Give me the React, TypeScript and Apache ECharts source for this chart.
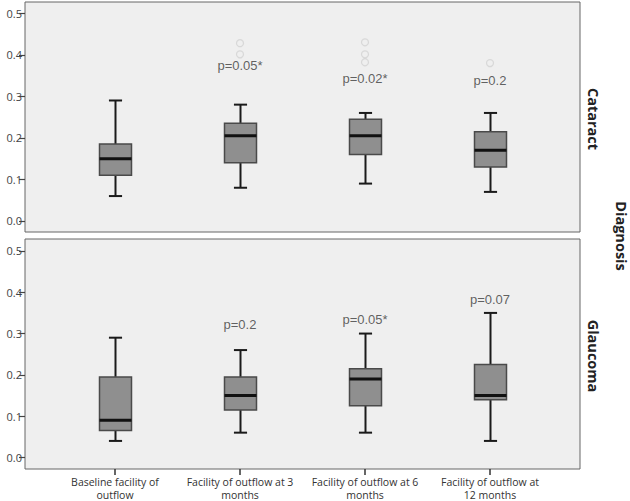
import React, { useEffect, useRef } from "react";
import * as echarts from "echarts";

const categories = [
  "Baseline facility of\noutflow",
  "Facility of outflow at 3\nmonths",
  "Facility of outflow at 6\nmonths",
  "Facility of outflow at\n12 months",
];
const panels = ["Cataract", "Glaucoma"];
const groupTitle = "Diagnosis";

// [low, Q1, median, Q3, high]
const cataractBoxes = [
  [0.06, 0.11, 0.15, 0.185, 0.29],
  [0.08, 0.14, 0.205, 0.235, 0.28],
  [0.09, 0.16, 0.205, 0.245, 0.26],
  [0.07, 0.13, 0.17, 0.215, 0.26],
];
const glaucomaBoxes = [
  [0.04, 0.065, 0.09, 0.195, 0.29],
  [0.06, 0.115, 0.15, 0.195, 0.26],
  [0.06, 0.125, 0.19, 0.215, 0.3],
  [0.04, 0.14, 0.15, 0.225, 0.35],
];
// outliers: [category index, value]
const cataractOutliers = [
  [1, 0.428],
  [1, 0.401],
  [2, 0.43],
  [2, 0.401],
  [2, 0.382],
  [3, 0.38],
];
const glaucomaOutliers: number[][] = [];
// p-value annotations: [category index, value, text]
const cataractPValues: [number, number, string][] = [
  [1, 0.374, "p=0.05*"],
  [2, 0.343, "p=0.02*"],
  [3, 0.337, "p=0.2"],
];
const glaucomaPValues: [number, number, string][] = [
  [1, 0.322, "p=0.2"],
  [2, 0.334, "p=0.05*"],
  [3, 0.382, "p=0.07"],
];
const yTicks = [0, 0.1, 0.2, 0.3, 0.4, 0.5];
const xTicks = [0, 1, 2, 3];

const FONT = "'Open Sans', 'Liberation Sans', sans-serif";

function renderBox(params: any, api: any) {
  const x = api.value(0);
  const low = api.coord([x, api.value(1)]);
  const q1 = api.coord([x, api.value(2)]);
  const med = api.coord([x, api.value(3)]);
  const q3 = api.coord([x, api.value(4)]);
  const high = api.coord([x, api.value(5)]);
  const band = api.size([1, 0])[0];
  const bw = band * 0.256;
  const cw = band * 0.105;
  const cx = Math.round(low[0]) + 0.5;
  const lineStyle = { stroke: "#1a1a1a", lineWidth: 2 };
  return {
    type: "group",
    children: [
      { type: "line", shape: { x1: cx, y1: high[1], x2: cx, y2: q3[1] }, style: lineStyle },
      { type: "line", shape: { x1: cx, y1: q1[1], x2: cx, y2: low[1] }, style: lineStyle },
      { type: "line", shape: { x1: cx - cw / 2, y1: high[1], x2: cx + cw / 2, y2: high[1] }, style: lineStyle },
      { type: "line", shape: { x1: cx - cw / 2, y1: low[1], x2: cx + cw / 2, y2: low[1] }, style: lineStyle },
      {
        type: "rect",
        shape: { x: cx - bw / 2, y: q3[1], width: bw, height: q1[1] - q3[1] },
        style: { fill: "#8f8f8f", stroke: "#4a4a4a", lineWidth: 1.5 },
      },
      {
        type: "line",
        shape: { x1: cx - bw / 2, y1: med[1], x2: cx + bw / 2, y2: med[1] },
        style: { stroke: "#111", lineWidth: 3 },
      },
    ],
  };
}

export default function App() {
  const ref = useRef<HTMLDivElement>(null);
  useEffect(() => {
    if (!ref.current) return;
    const chart = echarts.init(ref.current, undefined, { renderer: "svg" });
    const grids = [
      { left: 25, top: 2, width: 555, height: 230 },
      { left: 25, top: 239, width: 555, height: 232 },
    ];
    const yRanges = [
      [-0.0265, 0.527],
      [-0.028, 0.529],
    ];
    const boxes = [cataractBoxes, glaucomaBoxes];
    const outliers = [cataractOutliers, glaucomaOutliers];
    const pvals = [cataractPValues, glaucomaPValues];
    const series: any[] = [];
    [0, 1].forEach((g) => {
      series.push({
        type: "scatter",
        xAxisIndex: g,
        yAxisIndex: g,
        symbol: "circle",
        symbolSize: 7,
        itemStyle: { color: "rgba(0,0,0,0)", borderColor: "#d2d2d2", borderWidth: 1.2 },
        data: outliers[g],
        z: 2,
      });
      series.push({
        type: "custom",
        xAxisIndex: g,
        yAxisIndex: g,
        renderItem: renderBox,
        encode: { x: 0, y: [1, 2, 3, 4, 5] },
        data: boxes[g].map((b, i) => [i, ...b]),
        z: 3,
      });
      series.push({
        type: "scatter",
        xAxisIndex: g,
        yAxisIndex: g,
        symbolSize: 1,
        itemStyle: { color: "transparent" },
        data: pvals[g].map((p) => ({ value: [p[0], p[1]], name: p[2] })),
        label: {
          show: true,
          position: "inside",
          formatter: "{b}",
          fontSize: 13,
          color: "#3a3a3a",
          fontFamily: "'Liberation Sans', Arial, sans-serif",
        },
        z: 4,
      });
    });
    const titleStyle = {
      fontSize: 14.5,
      fontWeight: "bold",
      fill: "#222",
      align: "center",
      verticalAlign: "middle",
      fontFamily: FONT,
    };
    chart.setOption({
      animation: false,
      grid: grids.map((g) => ({
        ...g,
        show: true,
        backgroundColor: "#efefef",
        borderColor: "#666",
        borderWidth: 1,
      })),
      xAxis: [0, 1].map((g) => ({
        type: "value",
        gridIndex: g,
        min: -0.72,
        max: 3.72,
        splitLine: { show: false },
        axisLine: { show: false, onZero: false },
        axisTick: {
          show: g === 1,
          customValues: xTicks,
          length: 6,
          lineStyle: { color: "#333", width: 1.5 },
        },
        axisLabel: {
          show: g === 1,
          customValues: xTicks,
          formatter: (v: number) => categories[Math.round(v)] ?? "",
          fontSize: 10.5,
          lineHeight: 13,
          color: "#333",
          margin: 6,
          fontFamily: FONT,
        },
      })),
      yAxis: [0, 1].map((g) => ({
        type: "value",
        gridIndex: g,
        min: yRanges[g][0],
        max: yRanges[g][1],
        splitLine: { show: false },
        axisLine: { show: false, onZero: false },
        axisTick: {
          show: true,
          customValues: yTicks,
          length: 6,
          lineStyle: { color: "#444", width: 1.2 },
        },
        axisLabel: {
          customValues: yTicks,
          formatter: (v: number) => v.toFixed(1),
          fontSize: 11,
          color: "#444",
          margin: 3,
          fontFamily: FONT,
        },
      })),
      graphic: [
        { type: "text", x: 593, y: 119, rotation: -Math.PI / 2, style: { text: panels[0], ...titleStyle } },
        { type: "text", x: 593, y: 356, rotation: -Math.PI / 2, style: { text: panels[1], ...titleStyle } },
        { type: "text", x: 621, y: 236, rotation: -Math.PI / 2, style: { text: groupTitle, ...titleStyle } },
      ],
      series,
    });
    return () => chart.dispose();
  }, []);
  return (
    <div
      ref={ref}
      style={{ position: "fixed", left: 0, top: 0, width: 630, height: 501, background: "#fff" }}
    />
  );
}
